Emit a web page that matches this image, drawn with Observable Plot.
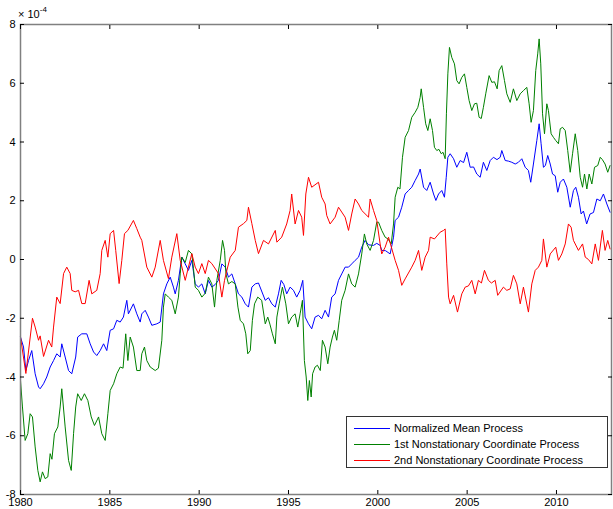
<!DOCTYPE html>
<html>
<head>
<meta charset="utf-8">
<script src="https://cdn.jsdelivr.net/npm/d3@7"></script>
<script src="https://cdn.jsdelivr.net/npm/@observablehq/plot@0.6"></script>
<style>
  html, body { margin: 0; padding: 0; background: #fff; }
  #wrap { position: relative; width: 613px; height: 509px; font-family: "Liberation Sans", Arial, Helvetica, sans-serif; }
  #exp { position: absolute; left: 18px; top: 6px; font-size: 11px; color: #000; }
  #exp sup { font-size: 8px; position: relative; top: -1px; }
  #legend { position: absolute; left: 346px; top: 416px; width: 262px; height: 52px; border: 1px solid #333; background: #fff; box-sizing: border-box; font-size: 11px; padding-top: 3px; }
  .row { display: flex; align-items: center; height: 16px; }
  .sw { width: 36px; height: 0; margin-left: 7px; margin-right: 4px; border-top: 1px solid; }
</style>
</head>
<body>
<div id="wrap"></div>
<script>
// Values are in units of 10^-4
const xTicks = [1980, 1985, 1990, 1995, 2000, 2005, 2010];
const yTicks = [-8, -6, -4, -2, 0, 2, 4, 6, 8];
const seriesNames = ["Normalized Mean Process", "1st Nonstationary Coordinate Process", "2nd Nonstationary Coordinate Process"];
const seriesColors = ["#0000ff", "#008000", "#ff0000"];

const blueYears = [1980.0,1980.17,1980.30,1980.45,1980.63,1980.82,1981.01,1981.10,1981.29,1981.47,1981.66,1981.85,1982.03,1982.22,1982.31,1982.50,1982.69,1982.87,1983.09,1983.20,1983.43,1983.71,1983.90,1984.09,1984.27,1984.46,1984.65,1984.83,1985.02,1985.21,1985.39,1985.58,1985.76,1985.95,1986.04,1986.32,1986.51,1986.70,1986.79,1986.98,1987.16,1987.35,1987.63,1987.82,1988.00,1988.19,1988.38,1988.56,1988.66,1988.84,1989.03,1989.22,1989.40,1989.59,1989.78,1989.96,1990.15,1990.34,1990.52,1990.71,1990.90,1991.08,1991.27,1991.46,1991.64,1991.83,1992.02,1992.20,1992.39,1992.58,1992.76,1992.95,1993.14,1993.32,1993.70,1993.88,1994.07,1994.26,1994.44,1994.59,1994.74,1994.90,1995.09,1995.28,1995.46,1995.65,1995.80,1995.93,1996.12,1996.30,1996.49,1996.68,1996.86,1997.05,1997.24,1997.42,1997.61,1997.80,1997.98,1998.17,1998.36,1998.54,1998.73,1998.92,1999.10,1999.29,1999.48,1999.76,1999.94,2000.13,2000.22,2000.43,2000.69,2000.88,2000.97,2001.16,2001.34,2001.53,2001.72,2001.90,2002.09,2002.28,2002.37,2002.56,2002.74,2002.93,2003.12,2003.25,2003.40,2003.58,2003.73,2003.83,2003.92,2004.05,2004.24,2004.42,2004.61,2004.80,2004.98,2005.17,2005.36,2005.54,2005.73,2005.91,2006.10,2006.29,2006.47,2006.67,2006.85,2006.94,2007.13,2007.31,2007.50,2007.69,2007.87,2008.06,2008.25,2008.43,2008.56,2008.71,2008.90,2009.03,2009.14,2009.27,2009.38,2009.51,2009.65,2009.78,2009.93,2010.07,2010.21,2010.39,2010.58,2010.77,2010.95,2011.08,2011.23,2011.38,2011.51,2011.69,2011.88,2012.07,2012.26,2012.45,2012.63,2012.82,2013.00];
const blueVals = [-2.64,-2.98,-3.78,-3.44,-3.1,-3.89,-4.34,-4.4,-4.23,-4.0,-3.66,-3.44,-3.21,-3.32,-2.87,-3.32,-3.78,-3.89,-3.32,-2.64,-2.53,-2.53,-2.87,-3.15,-3.27,-3.1,-2.87,-3.1,-2.41,-2.36,-2.07,-2.13,-1.96,-1.39,-1.85,-1.51,-1.85,-2.13,-1.85,-1.73,-1.96,-2.24,-2.19,-2.13,-1.17,-0.83,-0.6,-0.94,-1.17,-0.71,0.08,-0.15,-0.37,-0.03,-0.83,-0.94,-0.83,-1.17,-0.71,-0.94,-0.85,-0.71,-0.15,-0.26,-0.6,-0.49,-0.83,-1.17,-1.28,-1.51,-1.62,-0.94,-0.83,-0.8,-1.39,-1.3,-1.51,-1.62,-1.17,-0.71,-0.85,-1.17,-0.94,-1.05,-1.28,-1.05,-0.71,-1.96,-2.19,-2.36,-1.96,-1.9,-2.02,-1.73,-1.96,-1.28,-1.17,-0.71,-0.49,-0.26,-0.26,-0.15,-0.03,0.08,0.42,0.65,0.5,0.48,0.55,0.48,0.31,0.3,0.19,0.76,1.33,1.44,1.78,2.23,2.35,2.46,2.69,2.91,3.08,2.46,2.35,2.63,2.23,2.01,2.23,2.35,2.12,2.8,3.48,3.6,3.43,3.14,3.37,3.3,3.65,3.14,3.15,2.91,2.8,3.31,3.03,3.37,3.48,3.4,3.48,3.71,3.37,3.35,3.31,3.25,3.31,3.43,3.14,3.03,2.63,3.25,4.05,4.62,3.94,3.14,3.2,3.54,3.25,2.91,2.85,2.29,2.63,2.74,2.46,1.78,2.35,2.46,2.12,1.55,1.65,1.21,1.55,1.6,2.06,2.0,2.23,1.89,1.61];

const greenYears = [1980.0,1980.11,1980.26,1980.41,1980.54,1980.67,1980.82,1980.97,1981.10,1981.23,1981.38,1981.53,1981.66,1981.76,1981.90,1982.09,1982.22,1982.31,1982.50,1982.69,1982.84,1982.97,1983.09,1983.20,1983.40,1983.58,1983.77,1983.96,1984.14,1984.37,1984.55,1984.74,1984.89,1985.02,1985.21,1985.39,1985.58,1985.74,1985.89,1986.01,1986.14,1986.32,1986.51,1986.70,1986.79,1986.94,1987.07,1987.26,1987.54,1987.72,1987.91,1988.00,1988.10,1988.28,1988.47,1988.66,1988.84,1988.94,1989.03,1989.22,1989.40,1989.59,1989.68,1989.78,1989.96,1990.15,1990.34,1990.52,1990.71,1990.86,1990.99,1991.18,1991.31,1991.42,1991.50,1991.64,1991.83,1992.02,1992.17,1992.30,1992.48,1992.61,1992.72,1992.86,1992.98,1993.10,1993.28,1993.50,1993.70,1993.84,1993.96,1994.10,1994.26,1994.35,1994.48,1994.66,1994.85,1995.00,1995.18,1995.37,1995.52,1995.65,1995.78,1995.89,1995.99,1996.08,1996.17,1996.27,1996.35,1996.49,1996.62,1996.78,1996.90,1997.05,1997.20,1997.33,1997.46,1997.57,1997.70,1997.84,1997.98,1998.17,1998.36,1998.54,1998.73,1998.92,1999.10,1999.25,1999.38,1999.57,1999.76,1999.94,2000.04,2000.22,2000.41,2000.57,2000.75,2000.88,2000.97,2001.12,2001.24,2001.38,2001.53,2001.72,2001.90,2002.09,2002.24,2002.37,2002.43,2002.56,2002.68,2002.80,2002.93,2003.06,2003.17,2003.30,2003.42,2003.55,2003.65,2003.77,2003.84,2003.92,2004.01,2004.14,2004.29,2004.42,2004.55,2004.70,2004.85,2004.98,2005.11,2005.26,2005.41,2005.54,2005.67,2005.79,2005.91,2006.04,2006.23,2006.38,2006.53,2006.68,2006.79,2006.94,2007.09,2007.22,2007.41,2007.59,2007.78,2007.97,2008.15,2008.34,2008.47,2008.58,2008.71,2008.84,2008.95,2009.03,2009.12,2009.22,2009.33,2009.46,2009.55,2009.70,2009.83,2009.96,2010.11,2010.21,2010.34,2010.49,2010.63,2010.77,2010.90,2011.05,2011.19,2011.33,2011.46,2011.57,2011.70,2011.83,2011.98,2012.13,2012.31,2012.45,2012.57,2012.72,2012.87,2013.00];
const greenVals = [-4.12,-5.02,-6.16,-5.93,-5.25,-5.36,-6.38,-7.18,-7.57,-7.23,-7.46,-7.4,-6.61,-6.8,-5.93,-5.7,-5.02,-4.4,-5.7,-6.84,-7.18,-5.93,-5.02,-4.57,-4.8,-4.57,-4.8,-5.36,-5.65,-5.36,-5.93,-6.16,-5.25,-4.46,-4.23,-3.89,-3.66,-3.7,-2.53,-3.44,-2.64,-2.98,-3.78,-3.78,-3.21,-2.98,-3.44,-3.66,-3.78,-3.7,-2.75,-1.62,-1.17,-1.28,-1.39,-1.85,-1.28,-0.49,0.08,-0.1,0.31,0.19,-0.3,-0.94,-1.05,-1.28,-1.15,-0.6,-0.83,-1.62,-0.71,-0.03,0.65,0.31,-0.49,-0.83,-0.75,-0.83,-1.62,-2.07,-2.19,-2.53,-3.21,-3.1,-2.07,-1.51,-1.28,-1.39,-2.19,-1.96,-2.2,-2.53,-2.87,-1.96,-1.51,-0.94,-1.51,-2.19,-1.96,-1.85,-2.3,-1.85,-1.39,-3.44,-4.0,-4.8,-4.12,-4.68,-3.89,-3.66,-3.6,-3.78,-2.75,-2.98,-3.55,-2.98,-2.64,-2.41,-2.75,-2.07,-1.39,-1.05,-0.49,-0.83,-0.94,-0.49,0.19,0.87,0.53,0.31,0.65,1.27,1.27,0.99,0.76,0.7,0.53,1.21,2.12,2.46,2.4,3.48,4.16,4.39,4.84,5.01,5.18,5.52,5.81,5.18,4.62,4.39,4.79,4.39,3.82,3.71,3.75,3.6,3.65,3.43,4.96,6.32,7.22,6.88,6.66,6.09,5.98,6.2,6.32,5.86,5.41,5.07,5.3,5.32,4.84,4.8,5.18,5.64,6.26,6.03,6.05,5.81,6.43,6.6,6.09,5.64,5.35,5.81,5.41,5.64,5.75,5.86,5.3,4.67,5.07,6.43,7.0,7.51,6.66,4.96,4.28,5.3,5.07,4.28,4.16,4.05,3.94,4.45,4.5,4.39,3.71,2.97,3.6,4.28,3.71,2.8,2.46,2.91,2.4,2.91,2.57,3.14,3.2,3.48,3.4,3.25,2.97,3.2];

const redYears = [1980.0,1980.30,1980.67,1980.82,1981.01,1981.10,1981.29,1981.57,1981.75,1981.85,1982.03,1982.22,1982.41,1982.59,1982.78,1982.87,1983.06,1983.25,1983.43,1983.62,1983.84,1983.99,1984.27,1984.46,1984.55,1984.74,1984.89,1985.02,1985.21,1985.33,1985.52,1985.67,1985.82,1986.01,1986.32,1986.51,1986.70,1986.79,1987.07,1987.35,1987.54,1987.82,1988.00,1988.28,1988.47,1988.75,1988.94,1989.22,1989.40,1989.59,1989.78,1989.96,1990.15,1990.34,1990.52,1990.71,1991.08,1991.27,1991.42,1991.55,1991.74,1992.02,1992.20,1992.48,1992.67,1992.76,1992.95,1993.14,1993.32,1993.60,1993.88,1994.26,1994.35,1994.62,1994.90,1995.09,1995.18,1995.37,1995.56,1995.74,1995.84,1995.97,1996.12,1996.30,1996.68,1996.86,1997.05,1997.14,1997.33,1997.61,1997.80,1998.17,1998.36,1998.54,1998.73,1998.92,1999.10,1999.48,1999.57,1999.76,1999.94,2000.13,2000.22,2000.41,2000.60,2000.97,2001.16,2001.34,2001.53,2001.90,2002.09,2002.28,2002.46,2002.65,2002.84,2002.93,2003.17,2003.49,2003.68,2003.77,2003.86,2003.96,2004.05,2004.24,2004.46,2004.70,2004.89,2005.07,2005.26,2005.45,2005.63,2005.80,2005.97,2006.19,2006.36,2006.57,2006.71,2007.03,2007.22,2007.41,2007.59,2007.78,2007.97,2008.15,2008.43,2008.62,2008.81,2008.99,2009.18,2009.27,2009.46,2009.65,2009.96,2010.11,2010.30,2010.49,2010.67,2010.82,2010.95,2011.23,2011.46,2011.61,2011.79,2011.98,2012.17,2012.35,2012.57,2012.72,2012.87,2013.00];
const redVals = [-2.64,-3.88,-2.0,-2.3,-2.75,-2.6,-3.3,-2.75,-2.98,-2.3,-1.28,-1.5,-0.48,-0.26,-0.48,-1.05,-1.1,-1.05,-1.5,-1.5,-0.71,-1.17,-1.05,-0.48,0.31,0.65,0.08,0.88,0.99,0.31,-0.82,-0.03,0.88,0.99,1.33,1.05,0.76,0.65,-0.26,-0.6,-0.26,0.65,-0.03,-0.65,0.08,0.88,-0.03,-0.71,-0.26,0.2,-0.26,-0.48,-0.14,-0.48,-0.03,-0.14,-0.48,-1.28,-0.71,-0.37,0.08,0.31,1.1,1.22,1.33,1.78,1.22,0.65,0.2,0.65,0.53,0.99,0.59,0.76,1.21,1.67,2.23,1.21,1.67,1.44,0.82,2.23,2.8,2.46,2.63,2.12,1.89,1.5,1.21,1.44,1.78,1.44,0.99,1.55,2.06,1.89,1.67,1.44,2.06,1.67,1.33,0.53,0.19,0.42,0.76,-0.03,-0.37,-0.88,-0.66,-0.26,-0.03,0.31,-0.37,0.08,0.31,0.76,0.7,0.93,0.99,1.04,-0.15,-1.28,-1.51,-1.22,-1.79,-1.17,-0.94,-0.9,-0.71,-1.17,-0.71,-0.8,-0.37,-0.71,-0.8,-0.71,-1.22,-0.94,-1.05,-1.0,-0.54,-0.83,-1.51,-0.94,-1.79,-0.83,-0.37,-0.26,-0.03,0.7,-0.26,0.19,0.42,-0.03,0.19,0.53,1.21,1.1,0.65,0.31,0.53,0.08,0.0,-0.15,0.53,-0.03,0.99,0.31,0.65,0.36];

const toRows = (years, vals) => years.map((y, i) => ({year: y, value: vals[i]}));
const blueData = toRows(blueYears, blueVals);
const greenData = toRows(greenYears, greenVals);
const redData = toRows(redYears, redVals);

const chart = Plot.plot({
  width: 613,
  height: 509,
  marginLeft: 20,
  marginRight: 2,
  marginTop: 24,
  marginBottom: 15,
  style: {fontFamily: "'Liberation Sans', Arial, Helvetica, sans-serif", fontSize: "11px", color: "#000", background: "#fff", overflow: "visible"},
  x: {domain: [1980, 2013.08], label: null},
  y: {domain: [-8, 8], label: null},
  marks: [
    Plot.line(blueData, {x: "year", y: "value", stroke: seriesColors[0], strokeWidth: 1}),
    Plot.line(greenData, {x: "year", y: "value", stroke: seriesColors[1], strokeWidth: 1}),
    Plot.line(redData, {x: "year", y: "value", stroke: seriesColors[2], strokeWidth: 1}),
    Plot.frame({stroke: "#808080", strokeWidth: 1.5}),
    Plot.axisX({anchor: "bottom", ticks: xTicks, tickFormat: d => String(d), tickSize: 0, tickPadding: 4, label: null}),
    Plot.axisX({anchor: "bottom", ticks: xTicks, tickSize: -4, text: null, label: null, stroke: "#000"}),
    Plot.axisX({anchor: "top", ticks: xTicks, tickSize: -4, text: null, label: null, stroke: "#000"}),
    Plot.axisY({anchor: "left", ticks: yTicks, tickFormat: d => String(d), tickSize: 0, tickPadding: 5, label: null}),
    Plot.axisY({anchor: "left", ticks: yTicks, tickSize: -4, text: null, label: null, stroke: "#000"}),
    Plot.axisY({anchor: "right", ticks: yTicks, tickSize: -4, text: null, label: null, stroke: "#000"})
  ]
});

const wrap = document.getElementById("wrap");
wrap.appendChild(chart);

const exp = document.createElement("div");
exp.id = "exp";
exp.innerHTML = "× 10<sup>-4</sup>";
wrap.appendChild(exp);

const legend = document.createElement("div");
legend.id = "legend";
seriesNames.forEach((name, i) => {
  const row = document.createElement("div");
  row.className = "row";
  const sw = document.createElement("span");
  sw.className = "sw";
  sw.style.borderTopColor = seriesColors[i];
  const label = document.createElement("span");
  label.textContent = name;
  row.appendChild(sw);
  row.appendChild(label);
  legend.appendChild(row);
});
wrap.appendChild(legend);
</script>
</body>
</html>
